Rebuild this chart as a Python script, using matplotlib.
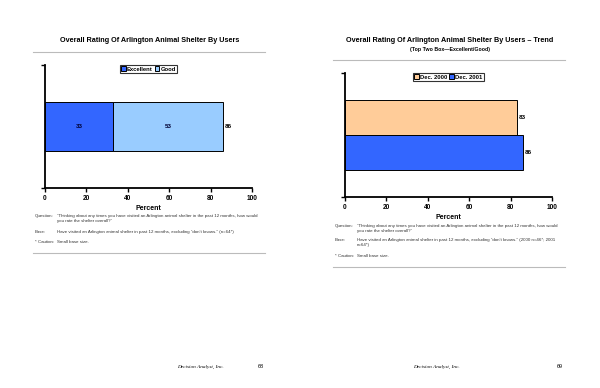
import matplotlib
matplotlib.use("Agg")
import matplotlib.pyplot as plt
from matplotlib.lines import Line2D

plt.rcParams['font.family'] = ['Liberation Sans', 'DejaVu Sans']

# Data
left_categories = ["Users"]
excellent = [33]
good = [53]
left_totals = [86]
left_legend = ["Excellent", "Good"]

right_categories = ["Dec. 2000", "Dec. 2001"]
right_values = [83, 86]

xticks = [0, 20, 40, 60, 80, 100]

left_title = "Overall Rating Of Arlington Animal Shelter By Users"
right_title = "Overall Rating Of Arlington Animal Shelter By Users \u2013 Trend"
right_subtitle = "(Top Two Box\u2014Excellent/Good)"
question = ("\u201cThinking about any times you have visited an Arlington animal shelter in the past 12 months, how would\n"
            "you rate the shelter overall?\u201d")
base_left = "Have visited an Arlington animal shelter in past 12 months, excluding \u201cdon\u2019t knows.\u201d (n=64*)"
base_right = ("Have visited an Arlington animal shelter in past 12 months, excluding \u201cdon\u2019t knows.\u201d (2000 n=46*; 2001\n"
              "n=64*)")
caution_label = "* Caution:"
caution_text = "Small base size."

C_EXC = "#3366FF"
C_GOOD = "#99CCFF"
C_2000 = "#FFCC99"
C_2001 = "#3366FF"

W, H = 600, 388
fig = plt.figure(figsize=(6, 3.88), dpi=100)

def fx(x): return x / W
def fy(y): return 1 - y / H

def style_axes(ax):
    for s in ["top", "right"]:
        ax.spines[s].set_visible(False)
    for s in ["left", "bottom"]:
        ax.spines[s].set_linewidth(1.3)
        ax.spines[s].set_color("black")
    ax.set_xlim(0, 100)
    ax.set_xticks(xticks)
    ax.set_xticklabels([str(t) for t in xticks], fontsize=4.7, fontweight="bold")
    ax.tick_params(axis="x", direction="out", length=3, width=1.0, pad=2)
    ax.tick_params(axis="y", direction="out", length=3, width=1.0, labelleft=False)
    ax.set_xlabel("Percent", fontsize=5, fontweight="bold", labelpad=2)

# ---------- Left chart ----------
axL = fig.add_axes([fx(45), fy(188), fx(207), 123 / H])
yl = list(range(len(left_categories)))
axL.barh(yl, excellent, height=0.8, color=C_EXC, edgecolor="black", linewidth=0.7, label=left_legend[0])
axL.barh(yl, good, left=excellent, height=0.8, color=C_GOOD, edgecolor="black", linewidth=0.7, label=left_legend[1])
axL.set_ylim(1, -1)
axL.set_yticks([-1, 1])
style_axes(axL)
for i in yl:
    axL.text(excellent[i] / 2, i, str(excellent[i]), ha="center", va="center", fontsize=4.5, fontweight="bold", color="#000033")
    axL.text(excellent[i] + good[i] / 2, i, str(good[i]), ha="center", va="center", fontsize=4.5, fontweight="bold", color="#000033")
    axL.text(left_totals[i] + 1, i, str(left_totals[i]), ha="left", va="center", fontsize=4.5, fontweight="bold")
legL = axL.legend(loc="upper center", bbox_to_anchor=(0.5, 1.0), ncol=2, fontsize=4.2, frameon=True,
                  fancybox=False, edgecolor="black", handlelength=0.8, handleheight=0.8, handletextpad=0.2,
                  columnspacing=0.3, borderpad=0.25, borderaxespad=0.0)
legL.get_frame().set_linewidth(0.8)
for t in legL.get_texts():
    t.set_fontweight("bold")

# ---------- Right chart ----------
axR = fig.add_axes([fx(345), fy(197), fx(207), 124 / H])
yr = list(range(len(right_categories)))
axR.barh(yr[0], right_values[0], height=1.0, color=C_2000, edgecolor="black", linewidth=0.7, label=right_categories[0])
axR.barh(yr[1], right_values[1], height=1.0, color=C_2001, edgecolor="black", linewidth=0.7, label=right_categories[1])
axR.set_ylim(2.25, -1.25)
axR.set_yticks([-1.25, 2.25])
style_axes(axR)
for i in yr:
    axR.text(right_values[i] + 1, i, str(right_values[i]), ha="left", va="center", fontsize=4.5, fontweight="bold")
legR = axR.legend(loc="upper center", bbox_to_anchor=(0.5, 1.0), ncol=2, fontsize=4.2, frameon=True,
                  fancybox=False, edgecolor="black", handlelength=0.8, handleheight=0.8, handletextpad=0.2,
                  columnspacing=0.3, borderpad=0.25, borderaxespad=0.0)
legR.get_frame().set_linewidth(0.8)
for t in legR.get_texts():
    t.set_fontweight("bold")

# ---------- Titles and rules ----------
fig.text(fx(150), fy(40), left_title, ha="center", va="center", fontsize=5.2, fontweight="bold")
fig.add_artist(Line2D([fx(33), fx(265)], [fy(52), fy(52)], color="#bbbbbb", lw=0.8))

fig.text(fx(450), fy(40), right_title, ha="center", va="center", fontsize=5.2, fontweight="bold")
fig.text(fx(450), fy(50), right_subtitle, ha="center", va="center", fontsize=3.8, fontweight="bold")
fig.add_artist(Line2D([fx(333), fx(565)], [fy(60), fy(60)], color="#bbbbbb", lw=0.8))

# ---------- Notes ----------
NFS = 3.2
NC = "#333333"
def notes(x0, y_q, y_b, y_c, base_text):
    kw = dict(ha="left", va="top", fontsize=NFS, color=NC, linespacing=1.2)
    fig.text(fx(x0), fy(y_q), "Question:", **kw)
    fig.text(fx(x0 + 22), fy(y_q), question, **kw)
    fig.text(fx(x0), fy(y_b), "Base:", **kw)
    fig.text(fx(x0 + 22), fy(y_b), base_text, **kw)
    fig.text(fx(x0), fy(y_c), caution_label, **kw)
    fig.text(fx(x0 + 22), fy(y_c), caution_text, **kw)

notes(35, 214, 230, 240, base_left)
fig.add_artist(Line2D([fx(33), fx(265)], [fy(253), fy(253)], color="#bbbbbb", lw=0.8))
notes(335, 224, 238, 254, base_right)
fig.add_artist(Line2D([fx(333), fx(565)], [fy(267), fy(267)], color="#bbbbbb", lw=0.8))

# ---------- Footer ----------
fig.text(fx(200), fy(367), "Decision Analyst, Inc.", ha="center", va="center", fontsize=3.8,
         fontstyle="italic", family=["Liberation Serif", "DejaVu Serif"])
fig.text(fx(261), fy(367), "68", ha="center", va="center", fontsize=4)
fig.text(fx(436), fy(367), "Decision Analyst, Inc.", ha="center", va="center", fontsize=3.8,
         fontstyle="italic", family=["Liberation Serif", "DejaVu Serif"])
fig.text(fx(560), fy(367), "69", ha="center", va="center", fontsize=4)

fig.savefig("out.png", dpi=100)
